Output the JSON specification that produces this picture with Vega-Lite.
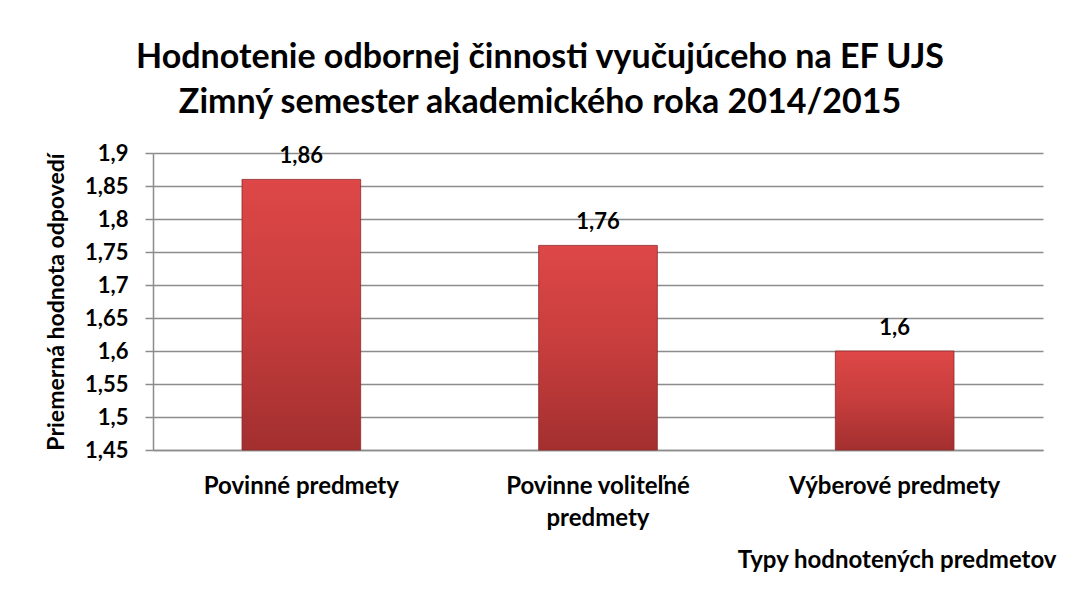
{
  "$schema": "https://vega.github.io/schema/vega-lite/v6.json",
  "width": 890,
  "height": 297,
  "autosize": "none",
  "padding": {"left": 153, "top": 153, "right": 24, "bottom": 151},
  "background": "white",
  "config": {
    "locale": {"number": {"decimal": ",", "thousands": " ", "grouping": [3], "currency": ["", " €"]}},
    "view": {"stroke": null},
    "font": "Lato"
  },
  "title": {
    "text": ["Hodnotenie odbornej činnosti vyučujúceho na EF UJS", "Zimný semester akademického roka 2014/2015"],
    "font": "Lato",
    "fontSize": 34,
    "fontWeight": "bold",
    "color": "black",
    "anchor": "middle",
    "dx": -58,
    "offset": 22,
    "lineHeight": 45
  },
  "data": {
    "values": [
      {"predmet": "Povinné predmety", "hodnota": 1.86},
      {"predmet": "Povinne voliteľné predmety", "hodnota": 1.76},
      {"predmet": "Výberové predmety", "hodnota": 1.6}
    ]
  },
  "encoding": {
    "x": {
      "field": "predmet",
      "type": "nominal",
      "sort": null,
      "scale": {"paddingInner": 0.6, "paddingOuter": 0.3},
      "axis": {
        "labelAngle": 0,
        "labelFont": "Lato",
        "labelFontSize": 24,
        "labelFontWeight": "bold",
        "labelColor": "black",
        "labelPadding": 24,
        "labelLineHeight": 32,
        "labelLimit": 0,
        "labelOverlap": false,
        "labelExpr": "datum.label == 'Povinne voliteľné predmety' ? ['Povinne voliteľné', 'predmety'] : datum.label",
        "ticks": false,
        "tickSize": 0,
        "domainColor": "#8c8c8c",
        "domainWidth": 1.5,
        "title": "Typy hodnotených predmetov",
        "titleFont": "Lato",
        "titleFontSize": 24,
        "titleFontWeight": "bold",
        "titleColor": "black",
        "titleAnchor": "end",
        "titleAlign": "right",
        "titleX": 903,
        "titleY": 117,
        "titleBaseline": "alphabetic"
      }
    },
    "y": {
      "field": "hodnota",
      "type": "quantitative",
      "scale": {"domain": [1.45, 1.9], "nice": false, "zero": false},
      "axis": {
        "values": [1.45, 1.5, 1.55, 1.6, 1.65, 1.7, 1.75, 1.8, 1.85, 1.9],
        "format": ".2~f",
        "labelOverlap": false,
        "labelFont": "Lato",
        "labelFontSize": 22,
        "labelFontWeight": "bold",
        "labelColor": "black",
        "labelPadding": 17,
        "tickSize": 8,
        "tickColor": "#8c8c8c",
        "tickWidth": 1.5,
        "grid": true,
        "gridColor": "#8c8c8c",
        "gridWidth": 1.5,
        "domainColor": "#8c8c8c",
        "domainWidth": 1.5,
        "title": "Priemerná hodnota odpovedí",
        "titleFont": "Lato",
        "titleFontSize": 23,
        "titleFontWeight": "bold",
        "titleColor": "black",
        "titleX": -97,
        "titleBaseline": "middle"
      }
    }
  },
  "layer": [
    {
      "mark": {
        "type": "bar",
        "color": {
          "gradient": "linear",
          "x1": 0, "y1": 0, "x2": 0, "y2": 1,
          "stops": [
            {"offset": 0, "color": "#de4747"},
            {"offset": 0.5, "color": "#c73d3d"},
            {"offset": 1, "color": "#a32f2f"}
          ]
        },
        "stroke": "#8e2828",
        "strokeWidth": 0.8
      },
      "encoding": {
        "y2": {"datum": 1.45}
      }
    },
    {
      "mark": {"type": "text", "dy": -23, "font": "Lato", "fontSize": 22, "fontWeight": "bold", "color": "black"},
      "encoding": {
        "text": {"field": "hodnota", "type": "quantitative", "format": ".2~f"}
      }
    }
  ]
}
